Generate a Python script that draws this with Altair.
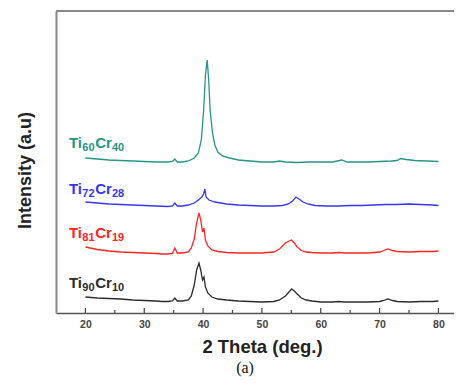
import altair as alt
import pandas as pd

# ---- data (intensity in arbitrary offset units) ----
series_names = ["Ti90Cr10", "Ti81Cr19", "Ti72Cr28", "Ti60Cr40"]
ti_sub = ["90", "81", "72", "60"]
cr_sub = ["10", "19", "28", "40"]
series_colors = ["#2b2b2b", "#ff2424", "#3636f2", "#279488"]

black_x = [20, 22, 24, 26, 28, 30, 32, 33, 34, 34.8, 35.2, 35.6, 36.5, 37.5, 38, 38.5, 38.9, 39.3, 39.6, 39.9,
           40.15, 40.4, 40.8, 41.5, 42.5, 44, 46, 48, 50, 52, 53, 54, 54.6, 55.05, 55.5, 56, 56.7, 57.5, 58.5,
           60, 62, 63, 64, 66, 68, 70, 70.7, 71.4, 72.2, 73, 75, 77, 79, 80]
black_y = [16, 15, 14.5, 14, 13, 12.5, 12, 11.5, 11.5, 12, 15, 12, 12, 13, 17, 28, 43, 50, 43, 33,
           36, 26, 20, 16, 14, 13, 12, 11.5, 11, 11.5, 13, 17, 21, 24, 22, 19, 15, 13, 12,
           11, 11, 11.5, 11, 11, 11, 11.5, 12.5, 14, 12.5, 11.5, 11, 11.5, 11.5, 12]

red_x = black_x
red_y = [66, 63.5, 62, 61, 60.5, 60, 59.5, 59, 59, 59.5, 65, 60, 60, 61, 65, 74, 90, 100, 93, 81,
         85, 73, 67, 63, 61.5, 60.5, 60, 60, 60, 61, 64, 70, 72, 73, 70, 66, 62.5, 61, 60.5,
         60, 60, 60.5, 60, 60, 60, 61, 62.5, 64, 62.5, 61.5, 61, 61.5, 61.5, 62]

blue_x = [20, 22, 24, 26, 28, 30, 32, 34, 34.8, 35.2, 35.6, 36.5, 37.5, 38.5, 39.2, 39.8, 40.1, 40.3, 40.5,
          41, 42, 43, 44, 46, 48, 50, 52, 53.5, 54.5, 55.2, 55.8, 56.3, 57, 57.8, 59, 61, 63, 65, 67, 69,
          71, 73, 75, 77, 79, 80]
blue_y = [111, 110, 109, 108.5, 108, 107.5, 107, 106.5, 107, 110, 107, 107, 108, 110, 113, 116, 119, 124, 116,
          113, 111, 110, 109, 108, 107.5, 107, 107, 107.5, 109, 112, 116, 114, 111, 109, 107.5, 107, 107, 107.5,
          107.5, 108, 108.5, 108.5, 109, 108.5, 108, 107.5]

teal_x = [20, 22, 24, 26, 28, 30, 32, 34, 34.8, 35.2, 35.6, 36.5, 37.5, 38.5, 39.2, 39.7, 40.1, 40.4, 40.7,
          40.95, 41.2, 41.6, 42, 42.5, 43.3, 44.5, 46, 48, 50, 52, 53, 54, 56, 58, 60, 62, 63.6, 64.5, 66,
          68, 70, 72, 73, 73.6, 74.5, 76, 78, 80]
teal_y = [155, 154, 153, 152.5, 152, 151.5, 151, 151, 151.5, 154, 151, 151, 152, 155, 160, 173, 203, 238, 253,
          233, 203, 180, 168, 161, 157, 155, 153, 152, 151, 151, 152, 151, 150.5, 151, 151, 151, 153, 151, 151,
          151, 151.5, 152, 152.5, 154.5, 153.5, 152.5, 152, 151.5]

label_x = [17.2, 17.2, 17.2, 17.2]
label_y = [30, 80, 124, 170]

major_ticks = [20, 30, 40, 50, 60, 70, 80]
minor_ticks = [25, 35, 45, 55, 65, 75]

# ---- build tables ----
rows = []
for name, xs, ys in zip(series_names, [black_x, red_x, blue_x, teal_x], [black_y, red_y, blue_y, teal_y]):
    for a, b in zip(xs, ys):
        rows.append({"series": name, "theta": a, "intensity": b})
df = pd.DataFrame(rows)
labels_df = pd.DataFrame({"series": series_names, "ti": ["Ti"] * 4, "cr": ["Cr"] * 4,
                          "s1": ti_sub, "s2": cr_sub, "x": label_x, "y": label_y})
major_df = pd.DataFrame({"t": major_ticks})
minor_df = pd.DataFrame({"t": minor_ticks})

W, H = 398, 302
xscale = alt.Scale(domain=[15, 82.65], nice=False, zero=False)
yscale = alt.Scale(domain=[0, 302], nice=False, zero=False)
cscale = alt.Scale(domain=series_names, range=series_colors)

lines = alt.Chart(df).mark_line(strokeWidth=1.3).encode(
    x=alt.X("theta:Q", scale=xscale,
            axis=alt.Axis(title="2 Theta (deg.)", values=major_ticks, ticks=False, grid=False,
                          domainColor="#555555", domainWidth=1.5,
                          labelFont="Liberation Sans", labelFontSize=10.5, labelFontWeight="bold",
                          labelColor="#444444", labelPadding=6,
                          titleFont="Liberation Sans", titleFontSize=18.5, titleFontWeight="bold",
                          titleColor="#222222", titlePadding=8, titleX=206)),
    y=alt.Y("intensity:Q", scale=yscale,
            axis=alt.Axis(title="Intensity (a.u)", labels=False, ticks=False, grid=False,
                          domainColor="#888888", domainWidth=2,
                          titleFont="Liberation Sans", titleFontSize=18, titleFontWeight="bold",
                          titleColor="#222222", titleX=-22, titleY=159)),
    color=alt.Color("series:N", scale=cscale, legend=None),
    detail="series:N",
)


def label_part(field, size, dx, dy):
    return alt.Chart(labels_df).mark_text(align="left", baseline="alphabetic", font="Liberation Sans",
                                          fontSize=size, fontWeight="bold", dx=dx, dy=dy).encode(
        x=alt.X("x:Q", scale=xscale),
        y=alt.Y("y:Q", scale=yscale),
        text=f"{field}:N",
        color=alt.Color("series:N", scale=cscale, legend=None),
    )


big, small = 15, 11
parts = [
    label_part("ti", big, 0, 5),
    label_part("s1", small, 13.4, 8),
    label_part("cr", big, 26.2, 5),
    label_part("s2", small, 43.0, 8),
]

major = alt.Chart(major_df).mark_rule(color="#444444", strokeWidth=1.2).encode(
    x=alt.X("t:Q", scale=xscale), y=alt.value(H), y2=alt.value(H - 5))
minor = alt.Chart(minor_df).mark_rule(color="#444444", strokeWidth=1.2).encode(
    x=alt.X("t:Q", scale=xscale), y=alt.value(H), y2=alt.value(H - 3))

top = alt.Chart(major_df).mark_rule(color="#888888", strokeWidth=2).encode(
    x=alt.value(0), x2=alt.value(W), y=alt.value(0))

chart = alt.layer(lines, *parts, major, minor, top).properties(
    width=W, height=H,
    padding={"left": 48, "top": 3, "right": 0, "bottom": 67},
    autosize=alt.AutoSizeParams(type="none"),
    title=alt.TitleParams("(a)", orient="bottom", font="Liberation Serif", fontSize=16,
                          fontWeight="normal", color="#111111", offset=4, dx=-10),
).configure_view(stroke=None).configure(background="white")

chart.save("out.html", embed_options={"renderer": "svg", "actions": False})
